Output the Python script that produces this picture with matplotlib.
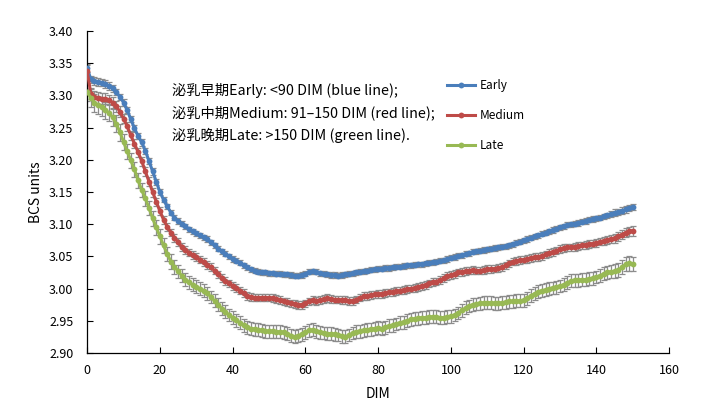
import numpy as np
import matplotlib
matplotlib.use('Agg')
import matplotlib.pyplot as plt

plt.rcParams['font.family'] = ['Noto Sans CJK SC', 'DejaVu Sans']

dim = list(range(0, 151))

# BCS 平均值
early = [
    3.343, 3.325, 3.322, 3.321, 3.320, 3.318, 3.315, 3.311, 3.305, 3.298,
    3.289, 3.277, 3.263, 3.249, 3.237, 3.227, 3.214, 3.198, 3.182, 3.166,
    3.150, 3.138, 3.128, 3.118, 3.110, 3.105, 3.101, 3.097, 3.092, 3.089,
    3.086, 3.083, 3.080, 3.077, 3.072, 3.067, 3.062, 3.058, 3.054, 3.050,
    3.046, 3.043, 3.040, 3.036, 3.033, 3.030, 3.028, 3.026, 3.025, 3.025,
    3.024, 3.024, 3.023, 3.023, 3.022, 3.022, 3.021, 3.020, 3.020, 3.021,
    3.023, 3.026, 3.027, 3.026, 3.024, 3.023, 3.022, 3.021, 3.021, 3.020,
    3.021, 3.022, 3.023, 3.024, 3.025, 3.026, 3.027, 3.028, 3.029, 3.030,
    3.031, 3.031, 3.032, 3.032, 3.033, 3.034, 3.034, 3.035, 3.036, 3.036,
    3.037, 3.038, 3.038, 3.039, 3.040, 3.041, 3.042, 3.043, 3.044, 3.046,
    3.048, 3.049, 3.051, 3.052, 3.054, 3.055, 3.057, 3.058, 3.059, 3.060,
    3.061, 3.062, 3.063, 3.064, 3.065, 3.066, 3.067, 3.069, 3.071, 3.073,
    3.075, 3.077, 3.079, 3.081, 3.083, 3.085, 3.087, 3.089, 3.091, 3.093,
    3.095, 3.097, 3.099, 3.100, 3.101, 3.102, 3.104, 3.105, 3.107, 3.108,
    3.109, 3.110, 3.112, 3.114, 3.116, 3.118, 3.119, 3.121, 3.123, 3.125,
    3.127,
]
medium = [
    3.338, 3.303, 3.298, 3.296, 3.295, 3.295, 3.293, 3.289, 3.283, 3.275,
    3.264, 3.252, 3.238, 3.225, 3.212, 3.198, 3.182, 3.166, 3.150, 3.135,
    3.120, 3.107, 3.096, 3.087, 3.079, 3.072, 3.065, 3.060, 3.056, 3.052,
    3.049, 3.045, 3.041, 3.037, 3.033, 3.028, 3.022, 3.017, 3.012, 3.008,
    3.004, 3.001, 2.997, 2.993, 2.989, 2.987, 2.986, 2.986, 2.986, 2.986,
    2.986, 2.985, 2.984, 2.982, 2.980, 2.979, 2.977, 2.976, 2.975, 2.975,
    2.977, 2.980, 2.982, 2.981, 2.982, 2.984, 2.985, 2.984, 2.983, 2.983,
    2.982, 2.982, 2.981, 2.981, 2.983, 2.986, 2.988, 2.989, 2.990, 2.991,
    2.992, 2.992, 2.993, 2.994, 2.995, 2.996, 2.997, 2.998, 2.999, 3.000,
    3.001, 3.003, 3.004, 3.006, 3.008, 3.010, 3.011, 3.013, 3.016, 3.019,
    3.021, 3.023, 3.025, 3.026, 3.027, 3.028, 3.029, 3.028, 3.028, 3.029,
    3.030, 3.030, 3.031, 3.032, 3.033, 3.036, 3.039, 3.042, 3.043, 3.044,
    3.045, 3.046, 3.048, 3.049, 3.049, 3.051, 3.053, 3.055, 3.057, 3.059,
    3.061, 3.063, 3.064, 3.064, 3.065, 3.066, 3.067, 3.068, 3.069, 3.070,
    3.071, 3.073, 3.074, 3.076, 3.077, 3.078, 3.081, 3.084, 3.087, 3.089,
    3.090,
]
late = [
    3.306, 3.296, 3.289, 3.285, 3.282, 3.277, 3.273, 3.266, 3.256, 3.243,
    3.228, 3.213, 3.199, 3.185, 3.168, 3.153, 3.140, 3.125, 3.109, 3.095,
    3.081, 3.067, 3.054, 3.042, 3.034, 3.027, 3.020, 3.014, 3.010, 3.006,
    3.003, 3.000, 2.997, 2.993, 2.987, 2.981, 2.975, 2.969, 2.964, 2.959,
    2.955, 2.951, 2.947, 2.943, 2.940, 2.938, 2.937, 2.936, 2.935, 2.934,
    2.934, 2.934, 2.933, 2.933, 2.932, 2.930, 2.927, 2.925, 2.927, 2.929,
    2.932, 2.935, 2.936, 2.934, 2.932, 2.931, 2.930, 2.930, 2.929, 2.928,
    2.926, 2.925, 2.928, 2.931, 2.933, 2.934, 2.935, 2.936, 2.937, 2.938,
    2.939, 2.938, 2.940, 2.942, 2.943, 2.945, 2.947, 2.948, 2.950, 2.952,
    2.953, 2.954, 2.955, 2.955, 2.956, 2.956, 2.956, 2.955, 2.955, 2.956,
    2.957, 2.959, 2.962, 2.966, 2.970, 2.973, 2.975, 2.976, 2.977, 2.978,
    2.978, 2.978, 2.977, 2.977, 2.978, 2.979, 2.980, 2.980, 2.981, 2.981,
    2.982, 2.985, 2.989, 2.992, 2.995, 2.997, 2.998, 3.000, 3.001, 3.002,
    3.004, 3.006, 3.009, 3.012, 3.013, 3.013, 3.014, 3.014, 3.015, 3.016,
    3.018, 3.020, 3.023, 3.025, 3.026, 3.027, 3.029, 3.033, 3.038, 3.039,
    3.038,
]

# 誤差線 (SE)
early_err = [
    0.006, 0.006, 0.006, 0.006, 0.006, 0.006, 0.006, 0.006, 0.005, 0.005,
    0.005, 0.005, 0.005, 0.005, 0.005, 0.005, 0.005, 0.005, 0.005, 0.005,
    0.004, 0.004, 0.004, 0.004, 0.004, 0.004, 0.004, 0.004, 0.004, 0.004,
    0.004, 0.004, 0.004, 0.004, 0.004, 0.004, 0.004, 0.004, 0.004, 0.004,
    0.004, 0.004, 0.004, 0.004, 0.004, 0.004, 0.004, 0.004, 0.004, 0.004,
    0.004, 0.004, 0.004, 0.004, 0.004, 0.004, 0.004, 0.004, 0.004, 0.004,
    0.004, 0.004, 0.004, 0.004, 0.004, 0.004, 0.004, 0.004, 0.004, 0.004,
    0.004, 0.004, 0.004, 0.004, 0.004, 0.004, 0.004, 0.004, 0.004, 0.004,
    0.004, 0.004, 0.004, 0.004, 0.004, 0.004, 0.004, 0.004, 0.004, 0.004,
    0.004, 0.004, 0.004, 0.004, 0.004, 0.004, 0.004, 0.004, 0.004, 0.004,
    0.004, 0.004, 0.004, 0.004, 0.004, 0.004, 0.004, 0.004, 0.004, 0.004,
    0.004, 0.004, 0.004, 0.004, 0.004, 0.004, 0.004, 0.004, 0.004, 0.004,
    0.004, 0.004, 0.004, 0.004, 0.004, 0.004, 0.004, 0.004, 0.004, 0.004,
    0.004, 0.004, 0.004, 0.004, 0.004, 0.004, 0.004, 0.004, 0.004, 0.004,
    0.004, 0.004, 0.004, 0.004, 0.005, 0.005, 0.005, 0.005, 0.005, 0.005,
    0.005,
]
medium_err = [
    0.010, 0.009, 0.009, 0.009, 0.009, 0.009, 0.008, 0.008, 0.008, 0.008,
    0.007, 0.007, 0.007, 0.007, 0.007, 0.007, 0.007, 0.007, 0.007, 0.006,
    0.006, 0.006, 0.006, 0.006, 0.006, 0.006, 0.006, 0.006, 0.006, 0.006,
    0.006, 0.006, 0.006, 0.006, 0.006, 0.006, 0.006, 0.006, 0.006, 0.006,
    0.006, 0.006, 0.006, 0.006, 0.006, 0.006, 0.006, 0.006, 0.006, 0.006,
    0.006, 0.006, 0.006, 0.006, 0.006, 0.006, 0.006, 0.006, 0.006, 0.006,
    0.006, 0.006, 0.006, 0.006, 0.006, 0.006, 0.006, 0.006, 0.006, 0.006,
    0.006, 0.006, 0.006, 0.006, 0.006, 0.006, 0.006, 0.006, 0.006, 0.006,
    0.006, 0.006, 0.006, 0.006, 0.006, 0.006, 0.006, 0.006, 0.006, 0.006,
    0.006, 0.006, 0.006, 0.006, 0.006, 0.006, 0.006, 0.006, 0.006, 0.006,
    0.006, 0.006, 0.006, 0.006, 0.006, 0.006, 0.006, 0.006, 0.006, 0.006,
    0.006, 0.006, 0.006, 0.006, 0.006, 0.006, 0.006, 0.006, 0.006, 0.006,
    0.006, 0.006, 0.006, 0.006, 0.006, 0.006, 0.006, 0.006, 0.006, 0.006,
    0.006, 0.006, 0.006, 0.006, 0.006, 0.006, 0.006, 0.006, 0.006, 0.006,
    0.006, 0.006, 0.006, 0.006, 0.006, 0.007, 0.007, 0.007, 0.007, 0.007,
    0.008,
]
late_err = [
    0.014, 0.014, 0.014, 0.014, 0.014, 0.013, 0.013, 0.013, 0.013, 0.013,
    0.012, 0.012, 0.012, 0.012, 0.012, 0.011, 0.011, 0.011, 0.011, 0.011,
    0.011, 0.011, 0.011, 0.011, 0.011, 0.010, 0.010, 0.010, 0.010, 0.010,
    0.010, 0.010, 0.010, 0.010, 0.010, 0.010, 0.010, 0.010, 0.010, 0.010,
    0.010, 0.010, 0.010, 0.010, 0.010, 0.010, 0.010, 0.010, 0.010, 0.010,
    0.010, 0.010, 0.010, 0.010, 0.010, 0.010, 0.010, 0.010, 0.010, 0.010,
    0.010, 0.010, 0.010, 0.010, 0.010, 0.010, 0.010, 0.010, 0.010, 0.010,
    0.010, 0.010, 0.010, 0.010, 0.010, 0.010, 0.010, 0.010, 0.010, 0.010,
    0.010, 0.010, 0.010, 0.010, 0.010, 0.010, 0.010, 0.010, 0.010, 0.010,
    0.010, 0.010, 0.010, 0.010, 0.010, 0.010, 0.010, 0.010, 0.010, 0.010,
    0.010, 0.010, 0.010, 0.010, 0.010, 0.010, 0.010, 0.010, 0.010, 0.010,
    0.010, 0.010, 0.010, 0.010, 0.010, 0.010, 0.010, 0.010, 0.010, 0.010,
    0.010, 0.010, 0.010, 0.010, 0.010, 0.010, 0.010, 0.010, 0.010, 0.010,
    0.010, 0.010, 0.010, 0.010, 0.010, 0.010, 0.010, 0.010, 0.010, 0.010,
    0.010, 0.010, 0.010, 0.010, 0.010, 0.011, 0.011, 0.011, 0.011, 0.011,
    0.011,
]

series = [
    ('Early', early, early_err, '#4A7EBB'),
    ('Medium', medium, medium_err, '#BE4B48'),
    ('Late', late, late_err, '#98B954'),
]

fig = plt.figure(figsize=(7.03, 4.09), dpi=100)
ax = fig.add_axes([0.124, 0.137, 0.828, 0.787])

for name, vals, err, col in series:
    ax.errorbar(dim, vals, yerr=err, fmt='none', ecolor='#8c8c8c',
                elinewidth=0.9, capsize=2.2, capthick=0.9, zorder=2)
    ax.plot(dim, vals, color=col, lw=2.2, marker='o', markersize=4.2,
            markeredgewidth=0, label=name, zorder=3)

ax.set_xlim(0, 160)
ax.set_ylim(2.90, 3.40)
ax.set_xticks(range(0, 161, 20))
ax.set_yticks(np.arange(2.90, 3.401, 0.05))
ax.yaxis.set_major_formatter(matplotlib.ticker.FormatStrFormatter('%.2f'))
ax.tick_params(direction='in', length=4, width=0.8, labelsize=9, pad=8)
ax.tick_params(axis='y', pad=10)
ax.spines['top'].set_visible(False)
ax.spines['right'].set_visible(False)
for s in ['left', 'bottom']:
    ax.spines[s].set_linewidth(0.9)

ax.set_xlabel('DIM', fontsize=10, labelpad=7)
ax.set_ylabel('BCS units', fontsize=10, labelpad=4)

ax.text(0.146, 0.838,
        '泌乳早期Early: <90 DIM (blue line);\n'
        '泌乳中期Medium: 91–150 DIM (red line);\n'
        '泌乳晚期Late: >150 DIM (green line).',
        transform=ax.transAxes, fontsize=10.3, va='top', ha='left',
        linespacing=1.6)

ax.legend(loc='upper left', bbox_to_anchor=(0.6, 0.885), frameon=False,
          fontsize=8.5, handlelength=2.4, labelspacing=1.45, handletextpad=0.4)

plt.savefig('out.png', dpi=100)
